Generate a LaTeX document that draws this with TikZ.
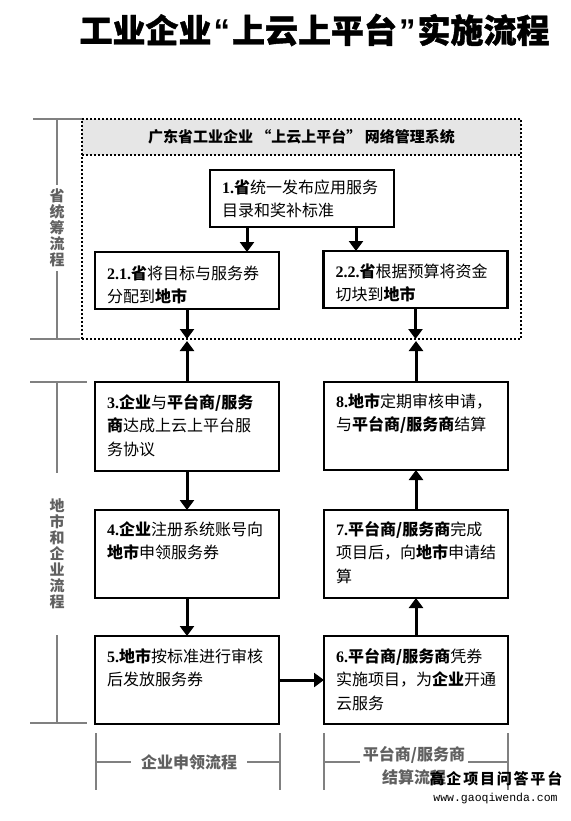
\documentclass[tikz,border=0pt]{standalone}
\usepackage{fontspec}
\setmainfont{Noto Sans CJK SC}
\newfontfamily\numf{Liberation Serif}
\newfontfamily\quotef{Liberation Sans}
\newfontfamily\titlef[BoldFeatures={FakeBold=1.2}]{Noto Sans CJK SC}
\newfontfamily\wmf[LetterSpace=12]{Noto Sans CJK SC}
\newfontfamily\wmmono{Liberation Mono}
\usetikzlibrary{arrows.meta}
\definecolor{brkc}{RGB}{128,128,128}
\definecolor{labc}{RGB}{96,96,96}
\definecolor{hdrfill}{RGB}{230,230,230}
\newcommand{\nb}[1]{{\numf\bfseries #1}}
\newcommand{\qt}[1]{\hspace{2pt}{\quotef\bfseries #1}\hspace{2pt}}
\newcommand{\boxtext}[3]{\node[txt] at ([shift={(12,#2)}]#1.north west) {\rule{0pt}{16pt}#3};}
\begin{document}
\begin{tikzpicture}[x=1pt,y=-1pt,
 box/.style={draw, line width=2.4pt, inner sep=0pt, outer sep=0pt, minimum width=184pt},
 txt/.style={anchor=north west, inner sep=0pt, text width=178pt, align=left, font=\fontsize{16}{23.5}\selectfont},
 arr/.style={line width=3pt, -{Triangle[width=14pt,length=10pt]}},
 dotbox/.style={draw, line width=2pt, dash pattern=on 2pt off 2pt, inner sep=0pt, outer sep=0pt},
 bline/.style={draw=brkc, line width=2pt},
 lab/.style={text=labc, font=\fontsize{15}{16}\selectfont\bfseries, align=center, inner xsep=0pt}
]
\useasboundingbox (0,0) rectangle (570,821);

% title
\node[font=\titlef\fontsize{33}{33}\selectfont\bfseries, inner sep=0pt] (title) at (314.5,30) {工业企业\qt{“}上云上平台\qt{”}实施流程};

% system frame
\node[dotbox, minimum width=439pt, minimum height=220pt] (sys) at (301.5,229) {};
\node[dotbox, fill=hdrfill, minimum width=439pt, minimum height=36pt, font=\fontsize{15}{15}\selectfont\bfseries] (hdr) at (301.5,137) {广东省工业企业 “上云上平台” 网络管理系统};

% boxes
\node[box, minimum height=57pt] (b1) at (302,198.5) {};
\node[box, minimum height=57pt] (b21) at (187,280.5) {};
\node[box, minimum height=57pt] (b22) at (415.5,279.5) {};
\node[box, minimum height=89pt] (b3) at (187,426.5) {};
\node[box, minimum height=88pt] (b4) at (187,554) {};
\node[box, minimum height=88pt] (b5) at (187,680) {};
\node[box, minimum height=88pt] (b8) at (416,426) {};
\node[box, minimum height=88pt] (b7) at (416,554) {};
\node[box, minimum height=88pt] (b6) at (416,680) {};

\boxtext{b1}{7}{\nb{1.}\textbf{省}统一发布应用服务\\目录和奖补标准}
\boxtext{b21}{11}{\nb{2.1.}\textbf{省}将目标与服务券\\分配到\textbf{地市}}
\boxtext{b22}{10}{\nb{2.2.}\textbf{省}根据预算将资金\\切块到\textbf{地市}}
\boxtext{b3}{10}{\nb{3.}\textbf{企业}与\textbf{平台商/服务}\\\textbf{商}达成上云上平台服\\务协议}
\boxtext{b4}{9}{\nb{4.}\textbf{企业}注册系统账号向\\\textbf{地市}申领服务券}
\boxtext{b5}{10}{\nb{5.}\textbf{地市}按标准进行审核\\后发放服务券}
\boxtext{b6}{10}{\nb{6.}\textbf{平台商/服务商}凭券\\实施项目，为\textbf{企业}开通\\云服务}
\boxtext{b7}{9}{\nb{7.}\textbf{平台商/服务商}完成\\项目后，向\textbf{地市}申请结\\算}
\boxtext{b8}{9}{\nb{8.}\textbf{地市}定期审核申请，\\与\textbf{平台商/服务商}结算}

% arrows
\draw[arr] ([xshift=-55pt]b1.south) -- ([xshift=-55pt]b1.south |- b21.north);
\draw[arr] ([xshift=54pt]b1.south) -- ([xshift=54pt]b1.south |- b22.north);
\draw[arr] (b21.south) -- (b21.south |- sys.south);
\draw[arr] (b3.north) -- ([yshift=-2pt]b3.north |- sys.south);
\draw[arr] (b22.south) -- (b22.south |- sys.south);
\draw[arr] (b8.north) -- ([yshift=-2pt]b8.north |- sys.south);
\draw[arr] (b3.south) -- (b4.north);
\draw[arr] (b4.south) -- (b5.north);
\draw[arr] (b5.east) -- (b6.west);
\draw[arr] (b6.north) -- (b7.south);
\draw[arr] (b7.north) -- (b8.south);

% left brackets
\node[lab, inner ysep=4pt] (lab1) at (57,228) {省\\统\\筹\\流\\程};
\coordinate (l1t) at (57,119);
\coordinate (l1b) at (57,339);
\draw[bline] (33,119) -- (82,119);
\draw[bline] (30,339) -- (80,339);
\draw[bline] (l1t) -- (lab1.north);
\draw[bline] (lab1.south) -- (l1b);

\node[lab, inner ysep=26pt] (lab2) at (57,554) {地\\市\\和\\企\\业\\流\\程};
\coordinate (l2t) at (57,382);
\coordinate (l2b) at (57,723);
\draw[bline] (30,382) -- (87,382);
\draw[bline] (30,723) -- (87,723);
\draw[bline] (l2t) -- (lab2.north);
\draw[bline] (lab2.south) -- (l2b);

% bottom brackets
\node[lab, font=\fontsize{16}{16}\selectfont\bfseries, inner xsep=10pt] (bl) at (189,762) {企业申领流程};
\draw[bline] (96,733) -- (96,790);
\draw[bline] (280,733) -- (280,790);
\coordinate (bl1) at (96,762);
\coordinate (bl2) at (280,762);
\draw[bline] (bl1) -- (bl.west);
\draw[bline] (bl.east) -- (bl2);

\node[lab, font=\fontsize{16}{23}\selectfont\bfseries, inner xsep=3pt] (br) at (414,765.5) {平台商/服务商\\结算流程};
\draw[bline] (324,733) -- (324,790);
\draw[bline] (508,733) -- (508,790);
\coordinate (br1) at (324,762);
\coordinate (br2) at (508,762);
\draw[bline] (br1) -- (br1 -| br.west);
\draw[bline] (br2 -| br.east) -- (br2);

% watermark
\node[font=\wmf\fontsize{15}{15}\selectfont\bfseries, inner sep=0pt] (wm1) at (496,779) {高企项目问答平台};
\node[font=\wmmono\fontsize{11.5}{11.5}\selectfont, inner sep=0pt] (wm2) at (495.5,799) {www.gaoqiwenda.com};
\end{tikzpicture}
\end{document}
